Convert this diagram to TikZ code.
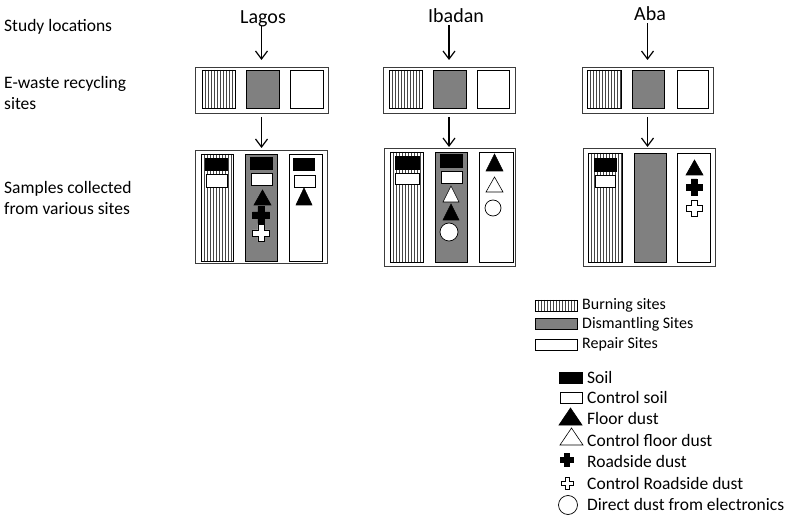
\documentclass[tikz,border=0pt]{standalone}
\usepackage{fontspec}
\setmainfont{Carlito}
\usetikzlibrary{arrows.meta}
\definecolor{dgray}{RGB}{128,128,128}
\definecolor{hatchc}{RGB}{70,70,70}
\definecolor{boxc}{RGB}{60,60,60}
\newcommand\burnrect[4]{%
  \begin{scope}
    \clip (#1,#2) rectangle (#3,#4);
    \foreach \i in {1,...,14} \draw[hatchc, line width=0.55pt] ({#1+3*\i},#2) -- ({#1+3*\i},#4);
  \end{scope}
  \draw[line width=0.8pt] (#1,#2) rectangle (#3,#4);}
\newcommand\disrect[4]{\draw[fill=dgray, line width=0.8pt] (#1,#2) rectangle (#3,#4);}
\newcommand\reprect[4]{\draw[fill=white, line width=0.8pt] (#1,#2) rectangle (#3,#4);}
\newcommand\soilsym[4]{\draw[fill=black, line width=0.6pt] (#1,#2) rectangle (#3,#4);}
\newcommand\ctrlsoilsym[4]{\draw[fill=white, line width=0.6pt] (#1,#2) rectangle (#3,#4);}
% fill, x1, x2, ytop, ybottom
\newcommand\trisym[5]{\draw[fill=#1, line width=0.6pt, line join=miter] (#2,#5) -- (#3,#5) -- ({(#2+#3)/2},#4) -- cycle;}
% fill, cx, cy, size
\newcommand\crosssym[4]{\draw[fill=#1, line width=0.6pt, shift={(#2,#3)}, scale=#4]
  (-0.18,-0.5) -- (0.18,-0.5) -- (0.18,-0.18) -- (0.5,-0.18) -- (0.5,0.18) -- (0.18,0.18) --
  (0.18,0.5) -- (-0.18,0.5) -- (-0.18,0.18) -- (-0.5,0.18) -- (-0.5,-0.18) -- (-0.18,-0.18) -- cycle;}
\newcommand\circsym[3]{\draw[fill=white, line width=0.7pt] (#1,#2) circle[radius=#3];}
\begin{document}
\begin{tikzpicture}[x=1pt,y=-1pt,
  outerbox/.style={draw=boxc, line width=0.8pt, inner sep=0pt, outer sep=0pt, anchor=north west},
  loclabel/.style={font=\fontsize{20}{24}\selectfont, inner sep=0pt, text depth=0.2em, anchor=base},
  sidelabel/.style={font=\fontsize{17.5}{21}\selectfont, inner sep=0pt, align=left, anchor=west},
  legsite/.style={font=\fontsize{16}{19}\selectfont, inner sep=0pt, anchor=west},
  legsym/.style={font=\fontsize{17.5}{21}\selectfont, inner sep=0pt, anchor=west},
  arr/.style={-{Straight Barb[length=8pt,width=12pt]}, line width=1.2pt}]
\useasboundingbox (0,0) rectangle (793,521);

% side labels
\node[sidelabel] (tstudy) at (4,27) {Study locations};
\node[sidelabel] (tsites) at (4,93) {E-waste recycling\\sites};
\node[sidelabel] (tsamples) at (4,198) {Samples collected\\from various sites};

% location labels
\node[loclabel] (lag) at (263,24) {Lagos};
\node[loclabel] (iba) at (456,23) {Ibadan};
\node[loclabel] (aba) at (650,21) {Aba};

% top boxes
\node[outerbox, minimum width=133pt, minimum height=46pt] (lagtop) at (195,67) {};
\node[outerbox, minimum width=132pt, minimum height=46pt] (ibatop) at (383,67) {};
\node[outerbox, minimum width=131pt, minimum height=46pt] (abatop) at (582,67) {};
\burnrect{202}{70}{235}{108}\disrect{246}{70}{279}{108}\reprect{290}{70}{323}{108}
\burnrect{389}{70}{422}{108}\disrect{433}{70}{466}{108}\reprect{477}{70}{509}{108}
\burnrect{587}{70}{621}{108}\disrect{632}{70}{664}{108}\reprect{677}{70}{708}{108}

% sample boxes
\node[outerbox, minimum width=132pt, minimum height=113pt] (lagsam) at (195,150) {};
\node[outerbox, minimum width=131pt, minimum height=118pt] (ibasam) at (384,148) {};
\node[outerbox, minimum width=132pt, minimum height=118pt] (abasam) at (583,148) {};

% Lagos samples
\burnrect{201}{154}{233}{261}\disrect{245}{154}{277}{261}\reprect{289}{154}{322}{261}
\soilsym{205}{158}{227}{170}\ctrlsoilsym{206}{174}{227}{187}
\soilsym{250}{157}{272}{169}\ctrlsoilsym{251}{173}{272}{185}
\trisym{black}{254}{271}{190}{205}
\crosssym{black}{261}{215}{17}
\crosssym{white}{261}{233}{17}
\soilsym{293}{158}{314}{170}\ctrlsoilsym{294}{175}{315}{187}
\trisym{black}{296}{312}{188}{205}

% Ibadan samples
\burnrect{390}{152}{423}{262}\disrect{435}{152}{467}{262}\reprect{479}{152}{513}{262}
\soilsym{395}{156}{419}{169}\ctrlsoilsym{395}{173}{419}{184}
\soilsym{440}{154}{462}{167}\ctrlsoilsym{441}{171}{462}{183}
\trisym{white}{443}{459}{186}{202}
\trisym{black}{443}{459}{204}{220}
\circsym{449}{232}{9}
\trisym{black}{486}{503}{154}{171}
\trisym{white}{486}{503}{177}{192}
\circsym{493}{208}{8}

% Aba samples
\burnrect{588}{153}{622}{262}\disrect{634}{153}{666}{262}\reprect{677}{153}{710}{262}
\soilsym{594}{158}{616}{171}\ctrlsoilsym{595}{175}{615}{187}
\trisym{black}{686}{703}{160}{175}
\crosssym{black}{694}{187}{16}
\crosssym{white}{694}{208}{16}

% arrows
\draw[arr, shorten >=7pt] (lag.south -| lagtop.north) -- (lagtop.north);
\draw[arr, shorten >=7pt] (iba.south -| ibatop.north) -- (ibatop.north);
\draw[arr, shorten >=7pt] (aba.south -| abatop.north) -- (abatop.north);
\draw[arr, shorten <=4pt, shorten >=2pt] (lagtop.south) -- (lagtop.south |- lagsam.north);
\draw[arr, shorten <=4pt, shorten >=1pt] (ibatop.south) -- (ibatop.south |- ibasam.north);
\draw[arr, shorten <=4pt, shorten >=1pt] (abatop.south) -- (abatop.south |- abasam.north);

% legend: sites
\burnrect{535}{300}{577}{311}
\disrect{535}{318}{577}{329}
\reprect{535}{339}{577}{350}
\node[legsite] (lburn) at (582,305) {Burning sites};
\node[legsite] (ldis) at (582,324) {Dismantling Sites};
\node[legsite] (lrep) at (582,344) {Repair Sites};

% legend: samples
\soilsym{559}{372}{582}{383}
\ctrlsoilsym{560}{392}{582}{403}
\trisym{black}{559}{582}{408}{425}
\trisym{white}{560}{583}{428}{445}
\crosssym{black}{567}{460}{13}
\crosssym{white}{567}{483}{12}
\circsym{568}{505}{9.5}
\node[legsym] (lsoil) at (587,377) {Soil};
\node[legsym] (lcsoil) at (587,397) {Control soil};
\node[legsym] (lfloor) at (587,418) {Floor dust};
\node[legsym] (lcfloor) at (587,440) {Control floor dust};
\node[legsym] (lroad) at (587,461) {Roadside dust};
\node[legsym] (lcroad) at (587,483) {Control Roadside dust};
\node[legsym] (ldirect) at (587,504) {Direct dust from electronics};
\end{tikzpicture}
\end{document}
